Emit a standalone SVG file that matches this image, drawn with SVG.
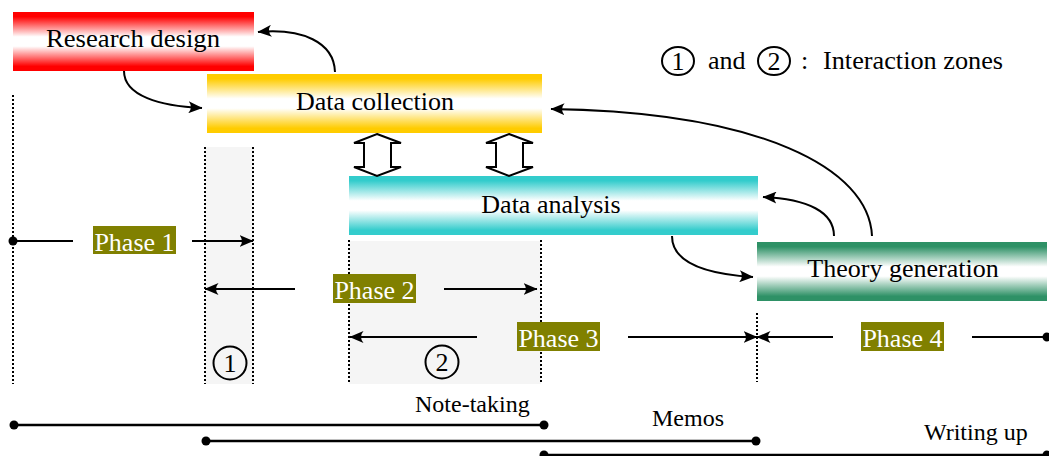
<svg xmlns="http://www.w3.org/2000/svg" width="1049" height="456" viewBox="0 0 1049 456">
  <style>
    .t{font-family:"Liberation Serif","Times New Roman",serif;fill:#000}
    .big{font-size:26px}
    .small{font-size:24px}
    .num{font-size:26px}
    .ph{font-family:"Liberation Serif","Times New Roman",serif;font-size:26px;fill:#fff;text-anchor:middle}
    .phbox{fill:#808000}
    .dots{stroke:#000;stroke-width:2;stroke-dasharray:2 2;fill:none}
    .zone{fill:#f5f5f5}
    .line{stroke:#000;stroke-width:2;fill:none}
    .arr{stroke:#000;stroke-width:2;fill:none;marker-end:url(#head)}
    .bar{stroke:#000;stroke-width:2.5}
    .ring{fill:none;stroke:#000;stroke-width:2}
    .dbl{fill:#fff;stroke:#000;stroke-width:2;stroke-linejoin:miter}
  </style>
  <defs>
    <linearGradient id="gRed" x1="0" y1="0" x2="0" y2="1">
      <stop offset="0" stop-color="#ff0000"/><stop offset="0.08" stop-color="#ff0000"/>
      <stop offset="0.42" stop-color="#ffffff"/><stop offset="0.58" stop-color="#ffffff"/>
      <stop offset="0.92" stop-color="#ff0000"/><stop offset="1" stop-color="#ff0000"/>
    </linearGradient>
    <linearGradient id="gYellow" x1="0" y1="0" x2="0" y2="1">
      <stop offset="0" stop-color="#ffcc00"/><stop offset="0.08" stop-color="#ffcc00"/>
      <stop offset="0.42" stop-color="#ffffff"/><stop offset="0.58" stop-color="#ffffff"/>
      <stop offset="0.92" stop-color="#ffcc00"/><stop offset="1" stop-color="#ffcc00"/>
    </linearGradient>
    <linearGradient id="gTeal" x1="0" y1="0" x2="0" y2="1">
      <stop offset="0" stop-color="#33cccc"/><stop offset="0.08" stop-color="#33cccc"/>
      <stop offset="0.42" stop-color="#ffffff"/><stop offset="0.58" stop-color="#ffffff"/>
      <stop offset="0.92" stop-color="#33cccc"/><stop offset="1" stop-color="#33cccc"/>
    </linearGradient>
    <linearGradient id="gGreen" x1="0" y1="0" x2="0" y2="1">
      <stop offset="0" stop-color="#2e9166"/><stop offset="0.08" stop-color="#2e9166"/>
      <stop offset="0.42" stop-color="#ffffff"/><stop offset="0.58" stop-color="#ffffff"/>
      <stop offset="0.92" stop-color="#2e9166"/><stop offset="1" stop-color="#2e9166"/>
    </linearGradient>
    <marker id="head" viewBox="0 0 14 12" refX="13.5" refY="6" markerWidth="14" markerHeight="12" markerUnits="userSpaceOnUse" orient="auto">
      <path d="M14,6 L0,0 Q5,6 0,12 Z" fill="#000"/>
    </marker>
  </defs>

  <!-- interaction zone shading -->
  <g id="zones">
    <rect class="zone" x="205" y="147" width="49" height="237"/>
    <rect class="zone" x="349" y="241" width="192" height="143"/>
  </g>

  <!-- dotted phase boundaries -->
  <g id="boundaries">
    <line class="dots" x1="13" y1="95" x2="13" y2="384"/>
    <line class="dots" x1="205" y1="147" x2="205" y2="384"/>
    <line class="dots" x1="253" y1="147" x2="253" y2="384"/>
    <line class="dots" x1="349" y1="240" x2="349" y2="384"/>
    <line class="dots" x1="541" y1="240" x2="541" y2="384"/>
    <line class="dots" x1="757" y1="313" x2="757" y2="382"/>
  </g>

  <!-- process boxes -->
  <g id="research-design">
    <rect x="13" y="12" width="241" height="59" fill="url(#gRed)"/>
    <text class="t big" x="133" y="47" text-anchor="middle" textLength="174" lengthAdjust="spacingAndGlyphs">Research design</text>
  </g>
  <g id="data-collection">
    <rect x="207" y="74" width="335" height="59" fill="url(#gYellow)"/>
    <text class="t big" x="375" y="110" text-anchor="middle">Data collection</text>
  </g>
  <g id="data-analysis">
    <rect x="349" y="176" width="409" height="59" fill="url(#gTeal)"/>
    <text class="t big" x="551" y="213" text-anchor="middle">Data analysis</text>
  </g>
  <g id="theory-generation">
    <rect x="757" y="242" width="290" height="59" fill="url(#gGreen)"/>
    <text class="t big" x="903" y="277" text-anchor="middle">Theory generation</text>
  </g>

  <!-- legend -->
  <g id="legend">
    <ellipse class="ring" cx="678" cy="61" rx="16" ry="14"/>
    <text class="t num" x="678" y="70" text-anchor="middle">1</text>
    <text class="t big" x="708" y="69">and</text>
    <ellipse class="ring" cx="774" cy="61" rx="16" ry="14"/>
    <text class="t num" x="774" y="70" text-anchor="middle">2</text>
    <text class="t big" x="801" y="69">:</text>
    <text class="t big" x="823" y="69" textLength="180" lengthAdjust="spacingAndGlyphs">Interaction zones</text>
  </g>

  <!-- connectors between the process boxes -->
  <g id="connectors">
    <path class="arr" d="M335,72 C334,42 302,28 258,32"/>
    <path class="arr" d="M124,71 C124,96 160,106 202,108"/>
    <path class="arr" d="M872,236 C869,168 760,112 551,109"/>
    <path class="arr" d="M834,236 C834,212 808,199 763,197"/>
    <path class="arr" d="M672,236 C672,262 705,274 753,277"/>
    <polygon class="dbl" points="377,134 401,143 391,143 391,167 401,167 377,176 354,167 364,167 364,143 354,143"/>
    <polygon class="dbl" points="509,134 533,143 523,143 523,167 533,167 509,176 486,167 496,167 496,143 486,143"/>
  </g>

  <!-- phase spans -->
  <g id="phase-1">
    <circle cx="13" cy="241" r="4.5"/>
    <line class="line" x1="13" y1="241" x2="73" y2="241"/>
    <rect class="phbox" x="93" y="226" width="83" height="28"/>
    <text class="ph" x="134.5" y="251">Phase 1</text>
    <line class="arr" x1="192" y1="241" x2="253" y2="241"/>
  </g>
  <g id="phase-2">
    <line class="arr" x1="295" y1="289" x2="205" y2="289"/>
    <rect class="phbox" x="333" y="274" width="83" height="29"/>
    <text class="ph" x="374.5" y="298.5">Phase 2</text>
    <line class="arr" x1="444" y1="289" x2="537" y2="289"/>
  </g>
  <g id="phase-3">
    <line class="arr" x1="477" y1="337" x2="350" y2="337"/>
    <rect class="phbox" x="517" y="322" width="83" height="29"/>
    <text class="ph" x="558.5" y="346.5">Phase 3</text>
    <line class="arr" x1="628" y1="337" x2="757" y2="337"/>
  </g>
  <g id="phase-4">
    <line class="arr" x1="833" y1="337" x2="757" y2="337"/>
    <rect class="phbox" x="861" y="322" width="83" height="29"/>
    <text class="ph" x="902.5" y="346.5">Phase 4</text>
    <line class="line" x1="972" y1="337" x2="1047" y2="337"/>
    <circle cx="1047" cy="337" r="4.5"/>
  </g>

  <!-- zone markers -->
  <g id="zone-1">
    <circle class="ring" cx="230" cy="363" r="16.5"/>
    <text class="t num" x="230" y="372" text-anchor="middle">1</text>
  </g>
  <g id="zone-2">
    <circle class="ring" cx="442" cy="362" r="16.5"/>
    <text class="t num" x="442" y="371" text-anchor="middle">2</text>
  </g>

  <!-- activity timelines -->
  <g id="note-taking">
    <text class="t small" x="415" y="412">Note-taking</text>
    <line class="bar" x1="14" y1="425" x2="544" y2="425"/>
    <circle cx="14" cy="425" r="4.5"/>
    <circle cx="544" cy="425" r="4.5"/>
  </g>
  <g id="memos">
    <text class="t small" x="652" y="426">Memos</text>
    <line class="bar" x1="206" y1="441" x2="756" y2="441"/>
    <circle cx="206" cy="441" r="4.5"/>
    <circle cx="756" cy="441" r="4.5"/>
  </g>
  <g id="writing-up">
    <text class="t small" x="924" y="440">Writing up</text>
    <line class="bar" x1="544" y1="455" x2="1047" y2="455"/>
    <circle cx="544" cy="455" r="4.5"/>
    <circle cx="1047" cy="455" r="4.5"/>
  </g>
</svg>
